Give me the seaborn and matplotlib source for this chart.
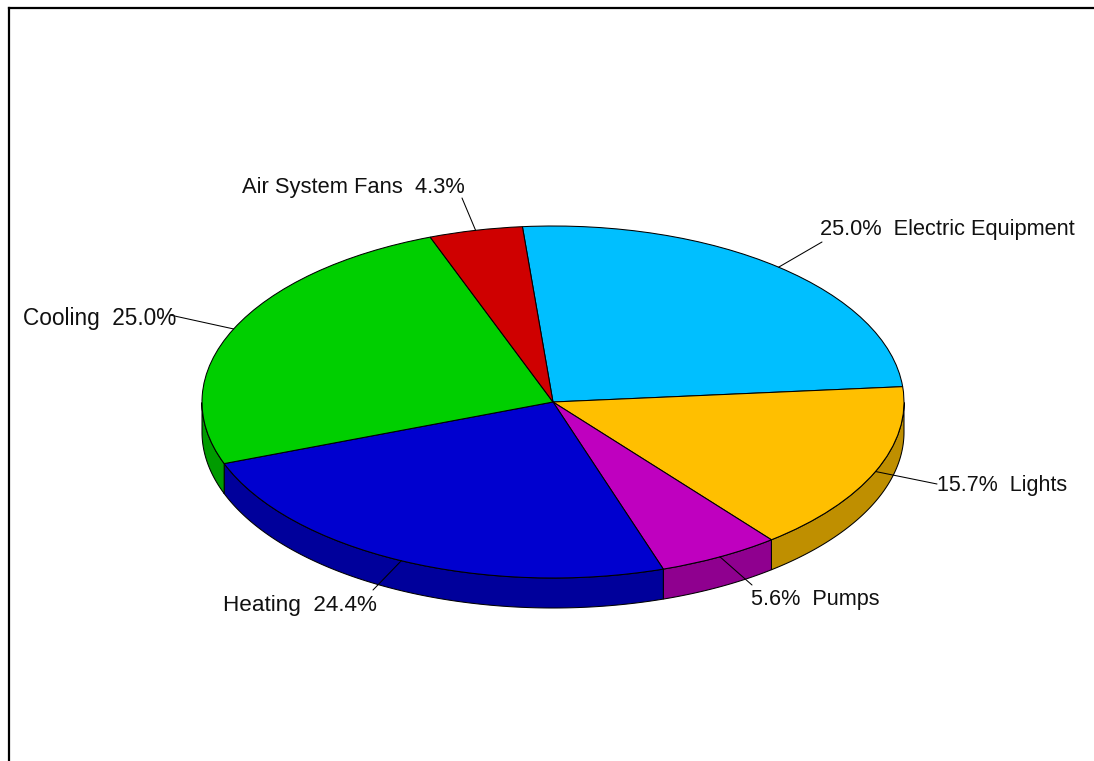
import numpy as np
import matplotlib
matplotlib.use("Agg")
import matplotlib.pyplot as plt
import seaborn as sns

categories = ["Electric Equipment", "Lights", "Pumps", "Heating", "Cooling", "Air System Fans"]
shares = [25.0, 15.7, 5.6, 24.4, 25.0, 4.3]
colors = ["#00BFFF", "#FFBF00", "#BF00BF", "#0000CF", "#00CF00", "#CF0000"]
label_text = ["25.0%  Electric Equipment", "15.7%  Lights", "5.6%  Pumps",
              "Heating  24.4%", "Cooling  25.0%", "Air System Fans  4.3%"]

W, H = 1094, 761
CX, CY, RX, RY, DEPTH = 553.0, 402.0, 351.0, 176.0, 30.0
START = 95.0
AX_L, AX_T = 9.0, 8.0
# label layout in pixels: text left edge, text centre y, leader end, font size
label_x = [820, 937, 751, 223, 23, 242]
label_y = [230, 486, 600, 606, 318, 187]
label_size = [15.65, 15.5, 15.6, 16.2, 16.3, 15.75]
leader_end = [(822, 242), (937, 484), (752, 585), (373, 590), (170, 315), (462, 198)]

sns.set_theme(style="white", rc={"axes.edgecolor": "black", "axes.linewidth": 1.6})
plt.rcParams["font.family"] = ["Liberation Sans", "DejaVu Sans"]

fig = plt.figure(figsize=(W / 100, H / 100), dpi=100, facecolor="white")
ax = fig.add_axes([AX_L / W, 0, 1 - AX_L / W, 1 - AX_T / H])


def dx(px):
    return (px - CX) / RX


def dy(py):
    return (CY - py) / RY


palette = sns.color_palette(colors)
d = DEPTH / RY
edges = START - np.cumsum([0.0] + shares) * 3.6
LW = 0.75

# side wall of the disc: only the front half (parametric 180..360 deg) shows
for i, col in enumerate(palette):
    hi, lo = edges[i], edges[i + 1]
    t = np.linspace(lo, hi, 200)
    t = t[(np.mod(t, 360) >= 180)]
    if t.size < 2:
        continue
    c, s = np.cos(np.radians(t)), np.sin(np.radians(t))
    xs = np.r_[c, c[::-1]]
    ys = np.r_[s, s[::-1] - d]
    ax.fill(xs, ys, facecolor=tuple(v * 0.75 for v in col), edgecolor="black", lw=LW, zorder=1)

wedges, _ = ax.pie(shares, colors=palette, startangle=START, counterclock=False, radius=1.0,
                   wedgeprops={"edgecolor": "black", "linewidth": LW, "zorder": 2})

ax.set_aspect("auto")
ax.set_xlim(dx(AX_L), dx(W))
ax.set_ylim(dy(H), dy(AX_T))
ax.set_xticks([])
ax.set_yticks([])
ax.set_frame_on(True)
for side, vis in {"left": True, "top": True, "right": False, "bottom": False}.items():
    ax.spines[side].set_visible(vis)

# leaders run from the middle of each slice's rim to its label
mids = np.radians((edges[:-1] + edges[1:]) / 2)
for m, end, txt, lx, ly, fs in zip(mids, leader_end, label_text, label_x, label_y, label_size):
    ax.plot([np.cos(m), dx(end[0])], [np.sin(m), dy(end[1])], color="black", lw=LW, zorder=3)
    ax.text(dx(lx), dy(ly), txt, fontsize=fs, color="#111111", ha="left", va="center", zorder=4)

fig.savefig("out.png", dpi=100, facecolor="white")
